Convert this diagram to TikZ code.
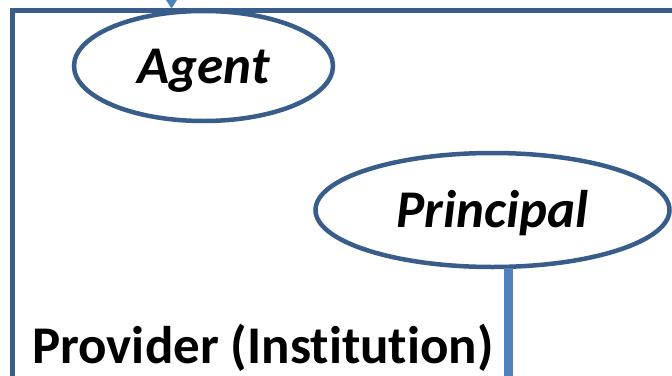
\documentclass[tikz,border=0pt]{standalone}
\usepackage{fontspec}
\setmainfont{Carlito}[Ligatures=NoCommon]
\usetikzlibrary{shapes.geometric}
\definecolor{outlineblue}{RGB}{56,93,138}
\definecolor{fillblue}{RGB}{79,129,189}
\begin{document}
\begin{tikzpicture}[x=1pt,y=1pt,
  frameline/.style={draw=outlineblue,line width=5pt},
  role/.style={ellipse,draw=outlineblue,line width=4.5pt,fill=white,
    font=\fontsize{53}{53}\selectfont\bfseries\itshape,
    text height=34pt,text depth=0pt,inner sep=0pt},
  thickline/.style={draw=fillblue,line width=9pt},
  label/.style={font=\fontsize{53}{53}\selectfont\bfseries,inner sep=0pt,anchor=base west}]
\useasboundingbox (0,0) rectangle (672,-375);
\coordinate (fr) at (680,-10);
\coordinate (fc) at (12,-10);
\coordinate (fb) at (12,-385);
\draw[frameline,line join=miter] (fr) -- (fc) -- (fb);
\coordinate (tipA) at (171.5,-8.5);
\fill[fillblue] (tipA) -- ++(-5.5,8.5) -- ++(11,0) -- cycle;
\node[role,minimum width=259pt,minimum height=110pt] (agent) at (203.5,-66) {Agent};
\node[role,minimum width=354pt,minimum height=114pt] (principal) at (492.5,-210) {Principal};
\coordinate (pend) at (508,-385);
\draw[thickline] ([xshift=15.5pt,yshift=1pt]principal.south) -- (pend);
\node[label] (provider) at (32,-363) {Provider (Institution)};
\end{tikzpicture}
\end{document}
